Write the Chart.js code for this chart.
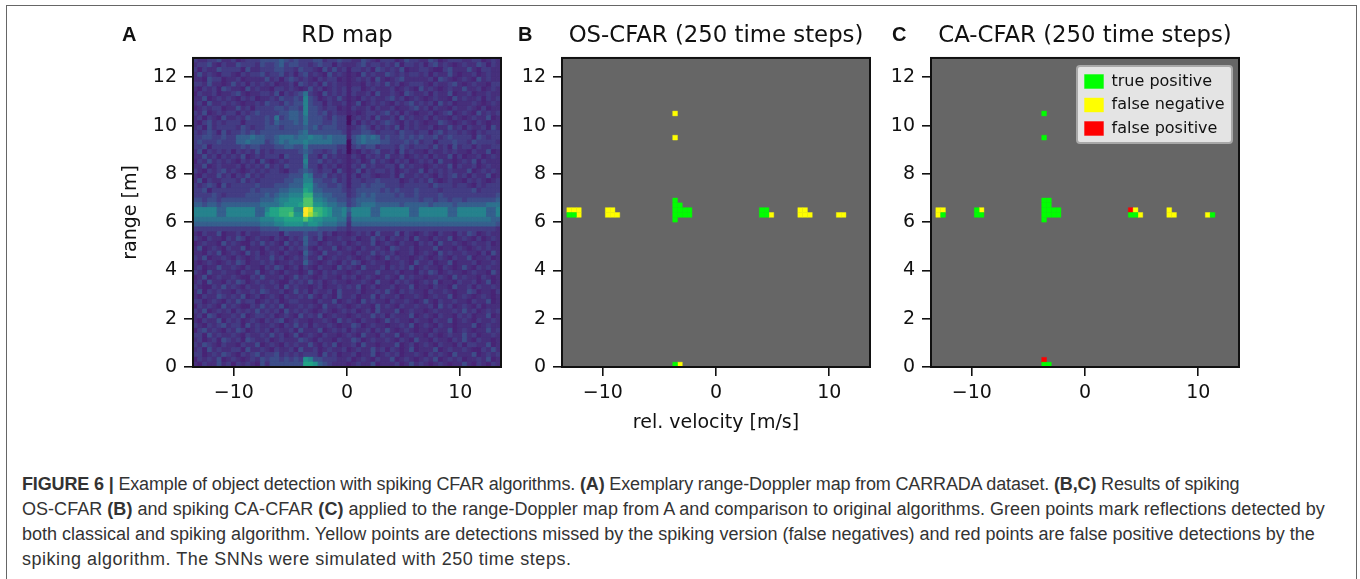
<!DOCTYPE html>
<html>
<head>
<meta charset="utf-8">
<script src="https://cdn.jsdelivr.net/npm/chart.js@4"></script>
<style>
  html, body { margin: 0; padding: 0; background: #fff; width: 1360px; height: 579px; overflow: hidden; }
  #frame { position: absolute; left: 6px; top: 5px; width: 1349px; height: 640px; border: 1.5px solid #666; }
  .panel { position: absolute; top: 0; height: 440px; }
  .letter { position: absolute; top: 23px; font: bold 20px "Liberation Sans"; color: #111; }
  .caption { position: absolute; left: 22px; font: 18px/25px "Liberation Sans"; color: #333; white-space: nowrap; }
</style>
</head>
<body>
<div id="frame"></div>
<canvas class="panel" id="chartA" style="left:100px" width="494" height="440"></canvas>
<canvas class="panel" id="chartB" style="left:469px" width="494" height="440"></canvas>
<canvas class="panel" id="chartC" style="left:838px" width="494" height="440"></canvas>
<div class="letter" style="left:122px">A</div>
<div class="letter" style="left:518px">B</div>
<div class="letter" style="left:892px">C</div>
<div class="caption" style="top:472px;letter-spacing:-0.15px"><b>FIGURE 6 |</b> Example of object detection with spiking CFAR algorithms. <b>(A)</b> Exemplary range-Doppler map from CARRADA dataset. <b>(B,C)</b> Results of spiking</div>
<div class="caption" style="top:497px;letter-spacing:0.04px">OS-CFAR <b>(B)</b> and spiking CA-CFAR <b>(C)</b> applied to the range-Doppler map from A and comparison to original algorithms. Green points mark reflections detected by</div>
<div class="caption" style="top:522px">both classical and spiking algorithm. Yellow points are detections missed by the spiking version (false negatives) and red points are false positive detections by the</div>
<div class="caption" style="top:547px;letter-spacing:0.5px">spiking algorithm. The SNNs were simulated with 250 time steps.</div>
<script>
const xTicks = [-10, 0, 10];
const yTicks = [0, 2, 4, 6, 8, 10, 12];
const xMin = -13.6, xMax = 13.6, yMin = 0, yMax = 12.8;
const bins = 64;

// RD map, top row first, one hex digit per cell (index into heatLevels)
const heatRows = [
  "32233422 31233344 44543433 34423343 32243213 33124332 24312333 22331232",
  "23342132 24333243 34534433 23433132 22342332 32413323 13423212 32243132",
  "31322433 33142233 34433243 32142423 13323143 23241223 32113422 24213322",
  "24232133 21323342 33423134 23214232 12142322 43232332 31322421 22312322",
  "22143312 23122224 23134323 21323312 12323142 12342222 23143212 32142322",
  "33242212 42313232 31223143 23142322 12213232 42312333 21322342 12322133",
  "21323143 22142322 13323212 42312323 13312322 23123214 23212322 42231232",
  "13223122 34212233 24132346 32142323 13223142 23214322 31322412 23122322",
  "22412323 21323122 32433437 43123242 12132322 34231232 12322142 32231323",
  "23142232 32122324 33243447 43313223 12412323 21323423 23142312 22321232",
  "12323312 24231333 34434437 44323312 13223132 23122342 31322132 23213122",
  "32412323 31323433 33445547 44342322 12123323 42313212 23123412 32142323",
  "23132142 23243334 36345546 44432433 02323142 23142322 31322132 12322412",
  "21342323 33133334 35444546 44433433 03132323 43213232 12243212 32132122",
  "23142333 32432334 44344445 45344433 12343132 32413232 23122423 13223142",
  "32343142 33434344 44444456 44444443 13344323 33243323 31342332 32132333",
  "33443343 35556554 45666566 76656555 14565653 43343434 33423433 33143233",
  "34333433 35565553 45656667 66666555 04565554 43334342 33133343 32433332",
  "33413333 33434433 34455446 44444433 03434423 33243233 32423142 33132233",
  "24132323 13232423 23333345 43323423 02132342 23142322 13223232 21322412",
  "22423132 32412323 33143336 33142322 13213232 42231232 31322413 12231232",
  "13242323 21323142 12323337 33423232 12312423 21323123 23142212 32413222",
  "22412322 23132324 23243336 33132312 13242322 33142322 12322413 22312322",
  "32132342 32123232 33213345 43233142 12413233 23123224 13232322 24123232",
  "21322423 13242323 33334447 63342323 13133212 23142232 32132342 31322412",
  "24132233 32423233 33344557 74433423 13323343 33312323 24212322 13232123",
  "32343142 33333433 34445558 85443343 13343444 33323333 32433323 32132333",
  "33413333 33334344 44556669 85544443 23444443 43433343 33323333 33423333",
  "33334323 33344445 4566777a a6655444 23454544 44343343 33343333 33333334",
  "44344344 44444455 5677888b b7765544 34555544 44444443 44344344 34444445",
  "55455455 55555566 6678889b b8876655 34566655 55545555 54555545 55555666",
  "77777557 77777557 99aaa77f eaa98667 57777557 77777557 77777557 77777557",
  "77777557 77777558 99aab88f dba98667 47777557 77777557 77777557 77777557",
  "66666666 66666677 7889999b 98877766 36666666 66666666 66666666 66666655",
  "55555555 55555566 67788887 88766655 25555555 55555555 55555555 55555554",
  "33333333 33333344 44555555 55444433 23333333 33333333 33333333 33333332",
  "21322412 23132233 33143334 33423122 12323142 22413212 32132213 24312322",
  "32132213 24312322 13213235 32412232 23122423 13223142 21322412 32131232",
  "12322142 32113242 32142325 33123223 12322412 32132213 23142232 12322312",
  "24123213 22412213 22313234 21322412 32132232 14322312 22412213 21232322",
  "22132412 32142312 32132215 32142232 21322423 23122312 32142322 32213142",
  "32412232 13212322 42312324 22412322 32123212 42322123 21232132 24122312",
  "21232123 24312232 31223225 32123213 24312322 12232142 23122412 22312232",
  "23122422 32132213 24312313 21322142 32142223 13232412 32213212 42132322",
  "32142232 21322412 32132212 42132322 12322242 22312213 24312322 12322142",
  "12412322 32113242 22312423 21232213 23123212 32142322 12232142 32213212",
  "23142213 24312322 32113232 42312322 12232142 21323212 32412213 22312412",
  "32113242 32132232 23142322 12312232 32412312 23122412 21322142 23132232",
  "24132322 13223243 22312423 13223142 22312232 42132322 13223212 24312213",
  "21322432 32412312 32132232 42132142 23122413 22312232 12322412 32123212",
  "33123213 24233123 23123322 21322412 32142322 13223212 42132232 21322412",
  "13232142 32113242 32412232 32142232 12322142 32132232 23142312 32131222",
  "32412323 13232423 23142323 21232123 23123142 22412322 12322232 42312323",
  "23143122 32412332 31232142 32412322 12322423 13222412 32132213 23122412",
  "21322413 23123213 23412322 12232142 32132212 42322132 21322412 32132232",
  "32132342 33142322 32132423 13223212 24312322 12232412 32132212 22412322",
  "13423213 24312323 13223142 22412323 13223132 42123212 21322412 32122423",
  "33142322 32132232 42312412 32132212 32142213 22412322 13212322 42312232",
  "23123143 23143223 12322243 21322132 24312322 32132142 21322132 42132212",
  "32432132 21322412 32132322 42132412 23142212 22412312 32132213 13322412",
  "23142322 33142232 13223142 23123223 12322423 13212412 22412322 32113242",
  "33123243 21323423 34232323 33142312 23122412 32312232 13232142 22412323",
  "13232412 32123243 44343438 74433322 31232132 24123212 32412323 12232412",
  "21322423 13232142 44444449 98543222 12322412 22312423 21232122 42132132"
];
const heatLevels = [0.04, 0.1, 0.135, 0.175, 0.235, 0.3, 0.37, 0.44, 0.51, 0.58, 0.65, 0.72, 0.8, 0.87, 0.93, 1];

const tpB = [[1,32],[2,32],[23,29],[23,30],[23,31],[23,32],[23,33],[24,30],[24,31],[24,32],[25,31],[25,32],[26,31],[26,32],[41,31],[42,31],[41,32],[42,32],[23,63]];
const fnB = [[1,31],[2,31],[3,31],[3,32],[9,31],[10,31],[9,32],[10,32],[11,32],[43,32],[49,31],[50,31],[49,32],[50,32],[51,32],[57,32],[58,32],[23,11],[23,16],[24,63]];

const tpC = [[2,32],[9,31],[9,32],[10,32],[23,29],[23,30],[23,31],[23,32],[23,33],[24,29],[24,30],[24,31],[24,32],[25,31],[25,32],[26,31],[26,32],[41,32],[42,32],[58,32],[23,11],[23,16],[23,63],[24,63]];
const fnC = [[1,31],[2,31],[1,32],[10,31],[42,31],[43,32],[49,31],[49,32],[50,32],[57,32]];
const fpC = [[41,31],[23,62]];

const legendLabels = ["true positive", "false negative", "false positive"];
const viridisStops = ["#440154","#482475","#414487","#355f8d","#2a788e","#21918c","#22a884","#44bf70","#7ad151","#bddf26","#fde725"];

const tickFont = { family: "DejaVu Sans", size: 19 };

function cellX(col) {
  return xMin + (col + 0.5) * (xMax - xMin) / bins;
}
function cellY(row) {
  return yMax - (row + 0.5) * (yMax - yMin) / bins;
}
function toPoints(cells) {
  return cells.map(c => ({ x: cellX(c[0]), y: cellY(c[1]) }));
}
function viridis(v) {
  const t = v * (viridisStops.length - 1);
  const i = Math.min(Math.floor(t), viridisStops.length - 2);
  const f = t - i;
  const a = viridisStops[i], b = viridisStops[i + 1];
  const mix = p => Math.round(parseInt(a.substr(p, 2), 16) * (1 - f) + parseInt(b.substr(p, 2), 16) * f);
  return `rgb(${mix(1)},${mix(3)},${mix(5)})`;
}

const heatPoints = [];
heatRows.forEach((line, row) => {
  line.replace(/ /g, "").split("").forEach((ch, col) => {
    heatPoints.push({ x: cellX(col), y: cellY(row), v: heatLevels[parseInt(ch, 16)] });
  });
});

// square cell: rect point style has side radius*sqrt2, axes are 308 px wide
const cellRadius = 308 / bins * Math.SQRT1_2;

function cellDataset(label, points, color, border) {
  return {
    label: label,
    data: points,
    backgroundColor: color,
    borderColor: color,
    pointStyle: "rect",
    pointRadius: cellRadius,
    pointHoverRadius: cellRadius,
    pointBorderWidth: border
  };
}

const panelPlugin = {
  id: "panelPlugin",
  afterLayout(chart) {
    if (chart.options.plugins.legend.display) {
      chart.legend.left = 1077 - 838;
      chart.legend.top = 66;
    }
  },
  // grey face and legend box go under the legend, which draws before the datasets
  beforeDraw(chart, args, opts) {
    const a = chart.chartArea, ctx = chart.ctx;
    ctx.save();
    if (opts.fill) {
      ctx.fillStyle = opts.fill;
      ctx.fillRect(a.left, a.top, a.width, a.height);
    }
    if (chart.options.plugins.legend.display) {
      ctx.fillStyle = "#e4e4e4";
      ctx.strokeStyle = "#a8a8a8";
      ctx.lineWidth = 2;
      ctx.beginPath();
      ctx.roundRect(1077 - 838, 66, 155, 77, 3);
      ctx.fill();
      ctx.stroke();
    }
    ctx.restore();
  },
  afterDatasetsDraw(chart) {
    const a = chart.chartArea, ctx = chart.ctx;
    ctx.save();
    ctx.strokeStyle = "#111";
    ctx.lineWidth = 2;
    ctx.strokeRect(a.left, a.top, a.width, a.height);
    ctx.restore();
  }
};

function makeChart(id, title, datasets, opts) {
  return new Chart(document.getElementById(id), {
    type: "scatter",
    data: { datasets: datasets },
    plugins: [panelPlugin],
    options: {
      responsive: false,
      animation: false,
      events: [],
      layout: { padding: 0 },
      plugins: {
        panelPlugin: { fill: opts.fill },
        tooltip: { enabled: false },
        title: {
          display: true,
          text: title,
          color: "#111",
          font: { family: "DejaVu Sans", size: 22.8, weight: "normal", lineHeight: 1.2 },
          padding: { top: 22, bottom: 8.6 }
        },
        legend: {
          display: !!opts.legend,
          position: "chartArea",
          align: "start",
          labels: {
            color: "#111",
            font: { family: "DejaVu Sans", size: 16 },
            boxWidth: 19,
            boxHeight: 14,
            padding: 7.5
          }
        }
      },
      scales: {
        x: {
          type: "linear",
          min: xMin,
          max: xMax,
          afterBuildTicks: s => { s.ticks = xTicks.map(v => ({ value: v })); },
          afterFit: s => { s.height = 73; },
          grid: { drawOnChartArea: false, color: "#111", lineWidth: 1.6, tickLength: 9 },
          border: { color: "#111", width: 2 },
          ticks: {
            color: "#111",
            font: tickFont,
            padding: 6,
            maxRotation: 0,
            callback: v => String(v).replace("-", "\u2212")
          },
          title: {
            display: !!opts.xTitle,
            text: opts.xTitle || "",
            color: "#111",
            font: { family: "DejaVu Sans", size: 19 },
            padding: { top: 0, bottom: 5.6 }
          }
        },
        y: {
          type: "linear",
          min: yMin,
          max: yMax,
          afterBuildTicks: s => { s.ticks = yTicks.map(v => ({ value: v })); },
          afterFit: s => { s.width = 93; },
          grid: { drawOnChartArea: false, color: "#111", lineWidth: 1.6, tickLength: 9 },
          border: { color: "#111", width: 2 },
          ticks: { color: "#111", font: tickFont, padding: 7 },
          title: {
            display: !!opts.yTitle,
            text: opts.yTitle || "",
            color: "#111",
            font: { family: "DejaVu Sans", size: 19 },
            padding: { top: 19.5, bottom: 0 }
          }
        },
        // blank right axis, same width as the left one, keeps the title centred over the plot
        yRight: {
          type: "linear",
          position: "right",
          min: yMin,
          max: yMax,
          afterFit: s => { s.width = 93; },
          grid: { display: false },
          border: { display: false },
          ticks: { display: false }
        }
      }
    }
  });
}

const heatSet = cellDataset("RD map", heatPoints, c => viridis(c.raw ? c.raw.v : 0), 1);
makeChart("chartA", "RD map", [heatSet], { yTitle: "range [m]" });

makeChart("chartB", "OS-CFAR (250 time steps)", [
  cellDataset(legendLabels[0], toPoints(tpB), "#00ff00", 0.4),
  cellDataset(legendLabels[1], toPoints(fnB), "#ffff00", 0.4)
], { fill: "#666666", xTitle: "rel. velocity [m/s]" });

makeChart("chartC", "CA-CFAR (250 time steps)", [
  cellDataset(legendLabels[0], toPoints(tpC), "#00ff00", 0.4),
  cellDataset(legendLabels[1], toPoints(fnC), "#ffff00", 0.4),
  cellDataset(legendLabels[2], toPoints(fpC), "#ff0000", 0.4)
], { fill: "#666666", legend: true });
</script>
</body>
</html>
